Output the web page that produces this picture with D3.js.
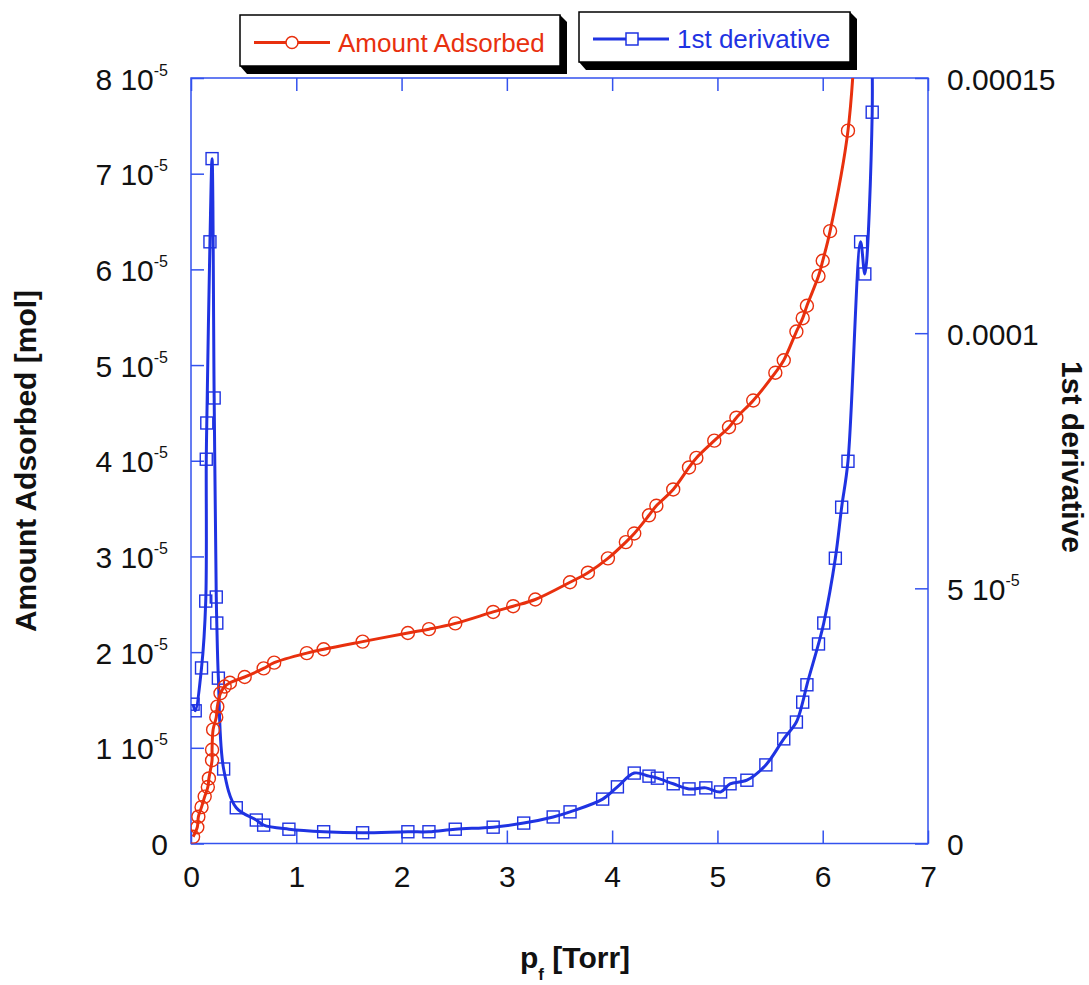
<!DOCTYPE html>
<html>
<head>
<meta charset="utf-8">
<script src="https://cdn.jsdelivr.net/npm/d3@7"></script>
<style>
  body { margin: 0; background: #ffffff; }
  svg { display: block; }
  text { font-family: "Liberation Sans", Arial, Helvetica, sans-serif; }
</style>
</head>
<body>
<svg id="chart" width="1089" height="985"></svg>
<script>
// Adsorption isotherm: pressure p_f [Torr] vs amount adsorbed (units of 1e-5 mol)
const adsorbedP = [0.02, 0.06, 0.07, 0.10, 0.13, 0.16, 0.17, 0.20, 0.20, 0.21, 0.24, 0.25, 0.28, 0.32, 0.37,
  0.51, 0.69, 0.79, 1.10, 1.26, 1.63, 2.06, 2.26, 2.51, 2.87, 3.06, 3.27, 3.60, 3.77, 3.96, 4.13, 4.21,
  4.35, 4.42, 4.58, 4.73, 4.80, 4.97, 5.11, 5.18, 5.34, 5.55, 5.63, 5.75, 5.81, 5.85, 5.96, 6.00, 6.07,
  6.24, 6.32];
const adsorbedAmt = [0.07, 0.17, 0.28, 0.38, 0.49, 0.59, 0.68, 0.87, 0.98, 1.19, 1.32, 1.43, 1.57, 1.64, 1.68,
  1.74, 1.83, 1.89, 1.99, 2.03, 2.11, 2.20, 2.24, 2.30, 2.42, 2.48, 2.55, 2.73, 2.83, 2.98, 3.15, 3.24,
  3.43, 3.53, 3.70, 3.93, 4.03, 4.21, 4.35, 4.45, 4.63, 4.92, 5.05, 5.35, 5.49, 5.62, 5.93, 6.09, 6.40,
  7.45, 8.70];

// First derivative of the isotherm (units of 1e-5)
const derivP = [0.02, 0.04, 0.10, 0.14, 0.145, 0.15, 0.18, 0.20, 0.22, 0.24, 0.245, 0.26, 0.31, 0.43, 0.62,
  0.69, 0.93, 1.26, 1.63, 2.06, 2.26, 2.51, 2.87, 3.16, 3.44, 3.60, 3.91, 4.05, 4.21, 4.35, 4.43, 4.58,
  4.73, 4.89, 5.03, 5.12, 5.28, 5.46, 5.63, 5.75, 5.81, 5.85, 5.96, 6.01, 6.12, 6.18, 6.24, 6.36, 6.40,
  6.47, 6.46];
const derivVal = [2.73, 2.60, 3.44, 4.75, 7.53, 8.24, 11.79, 13.42, 8.73, 4.83, 4.32, 3.24, 1.46, 0.70, 0.46,
  0.36, 0.28, 0.23, 0.21, 0.23, 0.23, 0.28, 0.32, 0.40, 0.52, 0.62, 0.87, 1.11, 1.38, 1.32, 1.28, 1.17,
  1.07, 1.09, 1.01, 1.17, 1.24, 1.54, 2.05, 2.38, 2.77, 3.11, 3.91, 4.32, 5.59, 6.59, 7.49, 11.79, 11.16,
  14.33, 16.20];

const UNIT = 1e-5;
const xTicks = [0, 1, 2, 3, 4, 5, 6, 7];
const leftTicks = [0, 1, 2, 3, 4, 5, 6, 7, 8];           // multiples of 1e-5 mol
const leftTickLabels = [["0", ""], ["1 10", "-5"], ["2 10", "-5"], ["3 10", "-5"], ["4 10", "-5"],
  ["5 10", "-5"], ["6 10", "-5"], ["7 10", "-5"], ["8 10", "-5"]];
const rightTicks = [0, 5e-5, 1e-4, 1.5e-4];
const rightTickLabels = [["0", ""], ["5 10", "-5"], ["0.0001", ""], ["0.00015", ""]];

const RED = "#e8300e";
const BLUE = "#1f33e2";
const FRAME = "#3352ee";

const svg = d3.select("#chart");
svg.append("rect").attr("width", 1089).attr("height", 985).attr("fill", "#ffffff");

const plotLeft = 191, plotRight = 928, plotTop = 78, plotBottom = 843.5;
const x = d3.scaleLinear().domain([0, 7]).range([plotLeft, plotRight]);
const yL = d3.scaleLinear().domain([0, 8e-5]).range([plotBottom, plotTop]);
const yR = d3.scaleLinear().domain([0, 1.5e-4]).range([plotBottom, plotTop]);

svg.append("defs").append("clipPath").attr("id", "plot-clip")
  .append("rect").attr("x", plotLeft).attr("y", plotTop)
  .attr("width", plotRight - plotLeft).attr("height", plotBottom - plotTop);

function labelTicks(g, labels) {
  g.selectAll(".tick text").each(function (d, i) {
    const t = d3.select(this);
    t.text(labels[i][0]);
    if (labels[i][1]) {
      t.append("tspan").attr("dy", -14).attr("font-size", 16).text(labels[i][1]);
    }
  });
}

function styleAxis(g) {
  g.select(".domain").remove();
  g.selectAll(".tick line").attr("stroke", FRAME).attr("stroke-width", 1.5);
  g.selectAll(".tick text").attr("fill", "#111").attr("font-size", 30)
    .attr("font-family", "'Liberation Sans', Arial, sans-serif");
}

// Bottom axis
const gB = svg.append("g").attr("transform", `translate(0,${plotBottom})`)
  .call(d3.axisBottom(x).tickValues(xTicks).tickSize(-13).tickPadding(22).tickFormat(d3.format("d")));
styleAxis(gB);

// Top axis (ticks only)
const gT = svg.append("g").attr("transform", `translate(0,${plotTop})`)
  .call(d3.axisTop(x).tickValues(xTicks).tickSize(-13).tickFormat(""));
styleAxis(gT);

// Left axis
const gL = svg.append("g").attr("transform", `translate(${plotLeft},0)`)
  .call(d3.axisLeft(yL).tickValues(leftTicks.map(v => v * UNIT)).tickSize(-13).tickPadding(23).tickFormat(""));
styleAxis(gL);
gL.selectAll(".tick text").attr("dy", "0.37em");
labelTicks(gL, leftTickLabels);

// Right axis
const gR = svg.append("g").attr("transform", `translate(${plotRight},0)`)
  .call(d3.axisRight(yR).tickValues(rightTicks).tickSize(-13).tickPadding(19).tickFormat(""));
styleAxis(gR);
gR.selectAll(".tick text").attr("dy", "0.37em");
labelTicks(gR, rightTickLabels);

// Plot frame
svg.append("rect").attr("x", plotLeft).attr("y", plotTop)
  .attr("width", plotRight - plotLeft).attr("height", plotBottom - plotTop)
  .attr("fill", "none").attr("stroke", FRAME).attr("stroke-width", 1.5);

const adsorbed = adsorbedP.map((p, i) => ({ p, v: adsorbedAmt[i] * UNIT }));
const deriv = derivP.map((p, i) => ({ p, v: derivVal[i] * UNIT }));

const plot = svg.append("g").attr("clip-path", "url(#plot-clip)");

// Derivative curve and square markers
plot.append("path").datum(deriv)
  .attr("d", d3.line().x(d => x(d.p)).y(d => yR(d.v)).curve(d3.curveCatmullRom.alpha(0.5)))
  .attr("fill", "none").attr("stroke", BLUE).attr("stroke-width", 3).attr("stroke-linejoin", "round");
plot.selectAll("rect.sq").data(deriv).join("rect").attr("class", "sq")
  .attr("x", d => x(d.p) - 6).attr("y", d => yR(d.v) - 6).attr("width", 12).attr("height", 12)
  .attr("fill", "none").attr("stroke", BLUE).attr("stroke-width", 1.4);

// Isotherm curve and circle markers
plot.append("path").datum(adsorbed)
  .attr("d", d3.line().x(d => x(d.p)).y(d => yL(d.v)).curve(d3.curveCatmullRom.alpha(0.5)))
  .attr("fill", "none").attr("stroke", RED).attr("stroke-width", 3).attr("stroke-linejoin", "round");
plot.selectAll("circle.ci").data(adsorbed).join("circle").attr("class", "ci")
  .attr("cx", d => x(d.p)).attr("cy", d => yL(d.v)).attr("r", 6.5)
  .attr("fill", "none").attr("stroke", RED).attr("stroke-width", 1.4);

// Axis titles
svg.append("text").attr("transform", "translate(36,461) rotate(-90)")
  .attr("text-anchor", "middle").attr("font-size", 30).attr("font-weight", "bold").attr("fill", "#111")
  .text("Amount Adsorbed [mol]");
svg.append("text").attr("transform", "translate(1062,457) rotate(90)")
  .attr("text-anchor", "middle").attr("font-size", 30).attr("font-weight", "bold").attr("fill", "#111")
  .text("1st derivative");
const xt = svg.append("text").attr("x", 520).attr("y", 968)
  .attr("font-size", 30).attr("font-weight", "bold").attr("fill", "#111");
xt.append("tspan").text("p");
xt.append("tspan").attr("dy", 12).attr("font-size", 17).text("f");
xt.append("tspan").attr("dy", -12).text(" [Torr]");

// Legend boxes with a drop shadow
function legendBox(bx, by, bw, bh, color, label, marker) {
  const g = svg.append("g");
  g.append("polygon")
    .attr("points", [[bx + bw, by], [bx + bw + 7, by + 7], [bx + bw + 7, by + bh + 8],
      [bx + 7, by + bh + 8], [bx, by + bh]].map(p => p.join(",")).join(" "))
    .attr("fill", "#000");
  g.append("rect").attr("x", bx).attr("y", by).attr("width", bw).attr("height", bh)
    .attr("fill", "#fff").attr("stroke", "#000").attr("stroke-width", 1.5);
  const cy = by + bh / 2 + 2;
  g.append("line").attr("x1", bx + 14).attr("x2", bx + 90).attr("y1", cy).attr("y2", cy)
    .attr("stroke", color).attr("stroke-width", 3);
  if (marker === "circle") {
    g.append("circle").attr("cx", bx + 52).attr("cy", cy).attr("r", 6)
      .attr("fill", "#fff").attr("stroke", color).attr("stroke-width", 1.5);
  } else {
    g.append("rect").attr("x", bx + 53 - 6).attr("y", cy - 6).attr("width", 12).attr("height", 12)
      .attr("fill", "#fff").attr("stroke", color).attr("stroke-width", 1.5);
  }
  g.append("text").attr("x", bx + 98).attr("y", cy + 9).attr("font-size", 26).attr("fill", color).text(label);
}
legendBox(240, 15, 320, 51, RED, "Amount Adsorbed", "circle");
legendBox(579, 12, 271, 50, BLUE, "1st derivative", "square");
</script>
</body>
</html>
